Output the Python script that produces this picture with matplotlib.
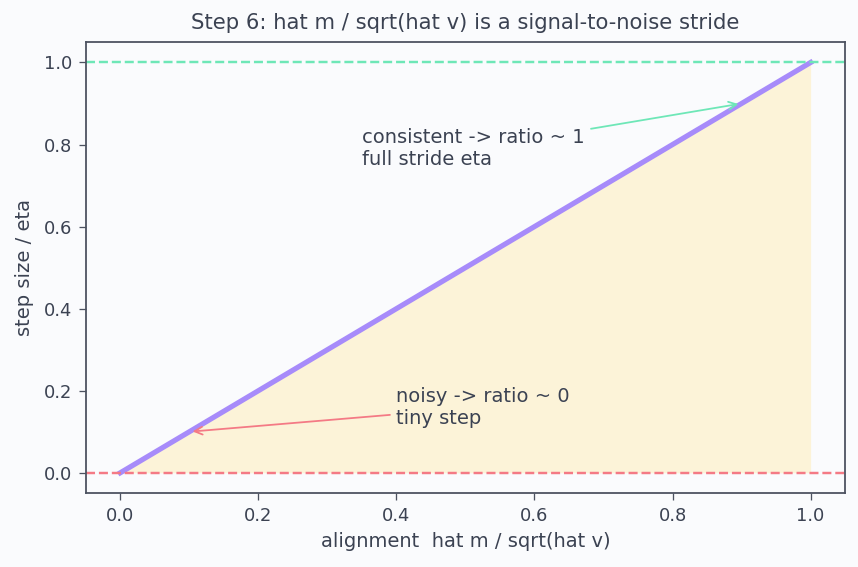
import numpy as np
import matplotlib
matplotlib.use("Agg")
import matplotlib.pyplot as plt

# alignment ratio vs step size (step = eta * ratio)
alignment = [0.0, 1.0]
step_size = [0.0, 1.0]
ceiling = 1.0
floor = 0.0

text_col = "#3b4252"
spine_col = "#4c5260"
bg = "#fafbfd"

DPI = 117
fig, ax = plt.subplots(figsize=(858 / DPI, 567 / DPI), dpi=DPI)
fig.set_facecolor(bg)
ax.set_facecolor(bg)

ax.fill_between(alignment, step_size, 0, color="#fdf1cf", alpha=0.8, linewidth=0)
ax.plot(alignment, step_size, color="#a78bfa", linewidth=3.2)
ax.axhline(ceiling, color="#6ee7b7", linestyle="--", linewidth=1.5)
ax.axhline(floor, color="#f47a85", linestyle="--", linewidth=1.5)

ax.annotate("consistent -> ratio ~ 1\nfull stride eta", xy=(0.9, 0.9), xytext=(0.35, 0.75),
            fontsize=12, color=text_col,
            arrowprops=dict(arrowstyle="->", color="#6ee7b7", lw=1.1))
ax.annotate("noisy -> ratio ~ 0\ntiny step", xy=(0.1, 0.1), xytext=(0.4, 0.12),
            fontsize=12, color=text_col,
            arrowprops=dict(arrowstyle="->", color="#f47a85", lw=1.1))

ax.set_title("Step 6: hat m / sqrt(hat v) is a signal-to-noise stride", fontsize=13,
             color=text_col, pad=8)
ax.set_xlabel("alignment  hat m / sqrt(hat v)", fontsize=12, color=text_col)
ax.set_ylabel("step size / eta", fontsize=12, color=text_col, labelpad=6)
ax.tick_params(colors=spine_col, labelcolor=text_col, labelsize=11, length=4.5, pad=4)
for s in ax.spines.values():
    s.set_color(spine_col)
    s.set_linewidth(1.1)

fig.subplots_adjust(left=0.1, right=0.985, top=0.926, bottom=0.13)
plt.savefig("out.png", dpi=DPI, facecolor=bg)
